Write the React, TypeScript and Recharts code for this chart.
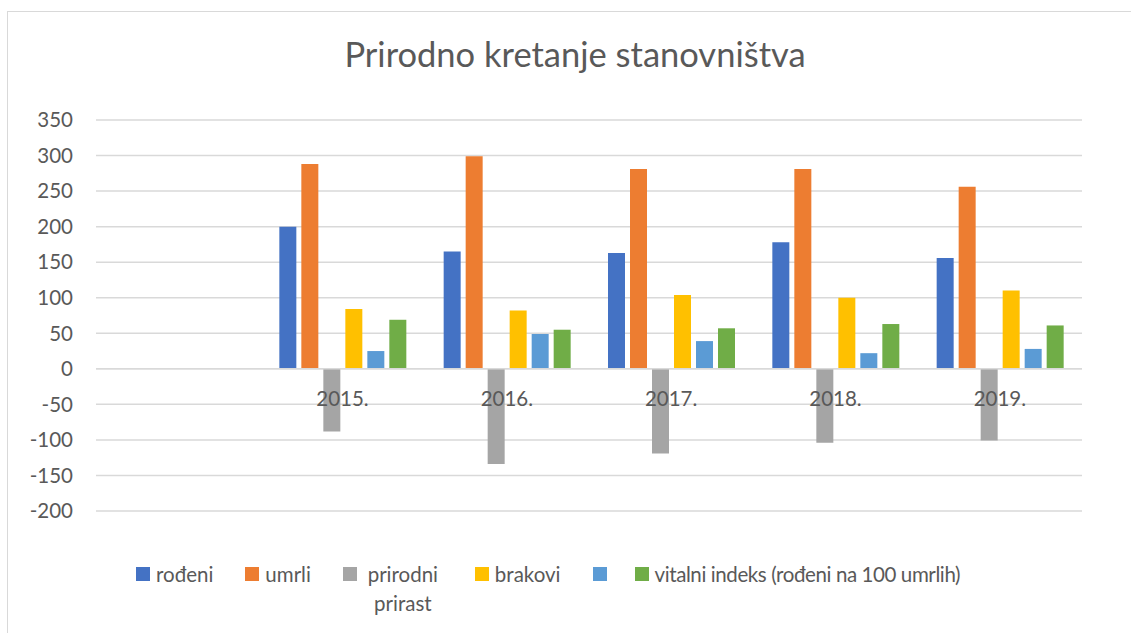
import React from "react";
import {
  BarChart,
  Bar,
  XAxis,
  YAxis,
  CartesianGrid,
  ReferenceLine,
  ReferenceDot,
  Legend,
} from "recharts";

const categories = ["", "2015.", "2016.", "2017.", "2018.", "2019."];
const rodjeni = [null, 200, 165, 163, 178, 156];
const umrli = [null, 288, 299, 281, 281, 256];
const prirodniPrirast = [null, -88, -134, -119, -104, -101];
const brakovi = [null, 84, 82, 104, 100, 110];
const bezNaziva = [null, 25, 49, 39, 22, 28];
const vitalniIndeks = [null, 69, 55, 57, 63, 61];
const yTicks = [-200, -150, -100, -50, 0, 50, 100, 150, 200, 250, 300, 350];

const series = [
  { key: "rodjeni", name: "rođeni", color: "#4472C4", values: rodjeni },
  { key: "umrli", name: "umrli", color: "#ED7D31", values: umrli },
  { key: "prirodni", name: "prirodni prirast", color: "#A5A5A5", values: prirodniPrirast },
  { key: "brakovi", name: "brakovi", color: "#FFC000", values: brakovi },
  { key: "bez", name: "", color: "#5B9BD5", values: bezNaziva },
  { key: "vitalni", name: "vitalni indeks (rođeni na 100 umrlih)", color: "#70AD47", values: vitalniIndeks },
];

const data = categories.map((c, i) => {
  const row: Record<string, any> = { cat: c };
  series.forEach((s) => {
    row[s.key] = s.values[i];
  });
  return row;
});

const FONT = "Lato, 'Open Sans', sans-serif";
const TEXT = "#595959";
const GRID = "#d9d9d9";

const LegendContent = () => (
  <div
    style={{
      display: "flex",
      alignItems: "flex-start",
      paddingLeft: 136,
      fontFamily: FONT,
      fontSize: 20.5,
      color: TEXT,
      lineHeight: "29px",
    }}
  >
    {series.map((s) => (
      <div
        key={s.key}
        style={{ display: "flex", alignItems: "flex-start", marginRight: s.name ? 32 : 22 }}
      >
        <div
          style={{
            width: 14,
            height: 14,
            background: s.color,
            marginTop: 7,
            marginRight: 6,
            flex: "none",
          }}
        />
        <div
          style={{
            maxWidth: s.key === "prirodni" ? 80 : undefined,
            textAlign: "center",
            whiteSpace: s.key === "prirodni" ? "normal" : "nowrap",
            letterSpacing: s.key === "vitalni" ? -0.4 : 0,
          }}
        >
          {s.name}
        </div>
      </div>
    ))}
  </div>
);

export default function App() {
  return (
    <div
      style={{
        position: "absolute",
        left: 0,
        top: 0,
        width: 1131,
        height: 633,
        overflow: "hidden",
        background: "#fff",
      }}
    >
      <div
        style={{
          position: "absolute",
          left: 7,
          top: 11,
          width: 1300,
          height: 800,
          borderLeft: `1px solid ${GRID}`,
          borderTop: `1px solid ${GRID}`,
        }}
      />
      <div
        style={{
          position: "absolute",
          left: 0,
          top: 33,
          width: 1150,
          textAlign: "center",
          fontFamily: FONT,
          fontSize: 34.5,
          color: TEXT,
          lineHeight: "42px",
        }}
      >
        Prirodno kretanje stanovništva
      </div>
      <div style={{ position: "absolute", left: 0, top: 0 }}>
        <BarChart
          width={1131}
          height={633}
          data={data}
          margin={{ top: 120, right: 49, bottom: 62, left: 0 }}
          barSize={17}
          barGap={5}
        >
          <CartesianGrid vertical={false} stroke={GRID} strokeWidth={1.5} />
          <XAxis dataKey="cat" hide />
          <YAxis
            width={96}
            domain={[-200, 350]}
            ticks={yTicks}
            axisLine={false}
            tickLine={false}
            tickSize={0}
            tickMargin={23}
            interval={0}
            tick={{ fill: TEXT, fontSize: 20.5, fontFamily: FONT }}
          />
          <ReferenceLine y={0} stroke={GRID} strokeWidth={1.5} />
          {series.map((s) => (
            <Bar
              key={s.key}
              dataKey={s.key}
              name={s.name || " "}
              fill={s.color}
              isAnimationActive={false}
            />
          ))}
          {categories
            .filter((c) => c !== "")
            .map((c) => (
              <ReferenceDot
                key={c}
                x={c}
                y={0}
                r={0}
                fill="none"
                stroke="none"
                label={{
                  value: c,
                  position: "bottom",
                  offset: 23,
                  fill: TEXT,
                  fontSize: 20.5,
                  fontFamily: FONT,
                }}
              />
            ))}
          <Legend
            verticalAlign="bottom"
            content={<LegendContent />}
            wrapperStyle={{ top: 560, bottom: "auto", left: 0, width: 1131, height: 60 }}
          />
        </BarChart>
      </div>
    </div>
  );
}
